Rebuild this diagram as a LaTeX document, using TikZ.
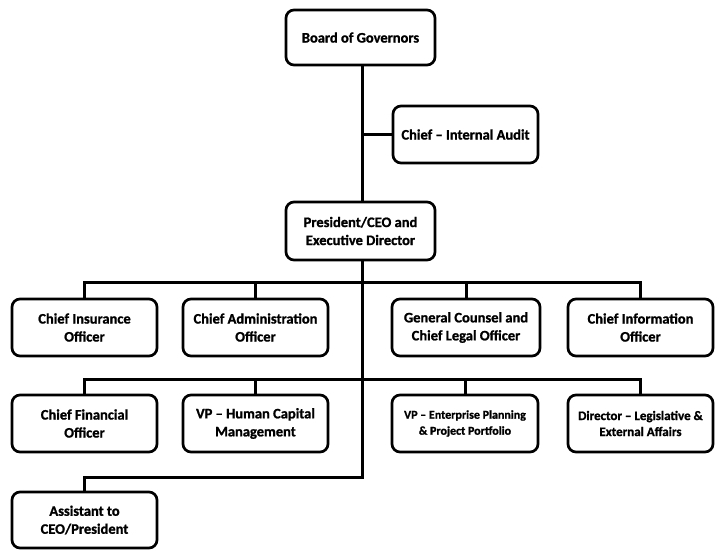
\documentclass[tikz,border=0pt]{standalone}
\usepackage{fontspec}
\setmainfont{Carlito}[BoldFeatures={FakeBold=1.2}]
\begin{document}
\begin{tikzpicture}[x=1pt,y=-1pt,
  orgbox/.style={draw, line width=2.7pt, rounded corners=8pt, minimum width=145pt, minimum height=57pt,
    align=center, inner sep=2pt, font=\bfseries\fontsize{14.5}{18}\selectfont},
  conn/.style={line width=3pt}]
\useasboundingbox (0,0) rectangle (719,550);
\node[orgbox, minimum width=149pt, minimum height=55pt] (board) at (360.5,37.5) {Board of Governors};
\node[orgbox] (audit) at (465.5,134.5) {Chief -- Internal Audit};
\node[orgbox, minimum width=149pt, minimum height=58pt] (pres) at (360.5,231) {President/CEO and\\Executive Director};
\node[orgbox] (ins) at (84.5,327.5) {Chief Insurance\\Officer};
\node[orgbox] (adm) at (255.5,327.5) {Chief Administration\\Officer};
\node[orgbox, minimum width=148pt] (gc) at (466,327.5) {General Counsel and\\Chief Legal Officer};
\node[orgbox] (info) at (640.5,327.5) {Chief Information\\Officer};
\node[orgbox] (cfo) at (84.5,423.5) {Chief Financial\\Officer};
\node[orgbox] (hcm) at (255.5,423.5) {VP -- Human Capital\\Management};
\node[orgbox, minimum width=146pt, font=\bfseries\fontsize{12}{16}\selectfont] (ent) at (465,423.5) {VP -- Enterprise Planning\\\& Project Portfolio};
\node[orgbox, font=\bfseries\fontsize{13}{16}\selectfont] (dir) at (640.5,423.5) {Director -- Legislative \&\\External Affairs};
\node[orgbox, minimum height=56pt] (asst) at (84.5,520) {Assistant to\\CEO/President};
\coordinate (b1) at (362,282);
\coordinate (b2) at (362,379);
\coordinate (b3) at (362,477);
\draw[conn] (board.south -| b1) -- (pres.north -| b1);
\draw[conn] (audit.west) -- (audit.west -| b1);
\draw[conn] (pres.south -| b1) -- (b3) -| (asst.north);
\draw[conn] (ins.north) |- (b1) -| (info.north);
\draw[conn] (adm.north) -- (adm.north |- b1);
\draw[conn] (gc.north) -- (gc.north |- b1);
\draw[conn] (cfo.north) |- (b2) -| (dir.north);
\draw[conn] (hcm.north) -- (hcm.north |- b2);
\draw[conn] (ent.north) -- (ent.north |- b2);
\end{tikzpicture}
\end{document}
